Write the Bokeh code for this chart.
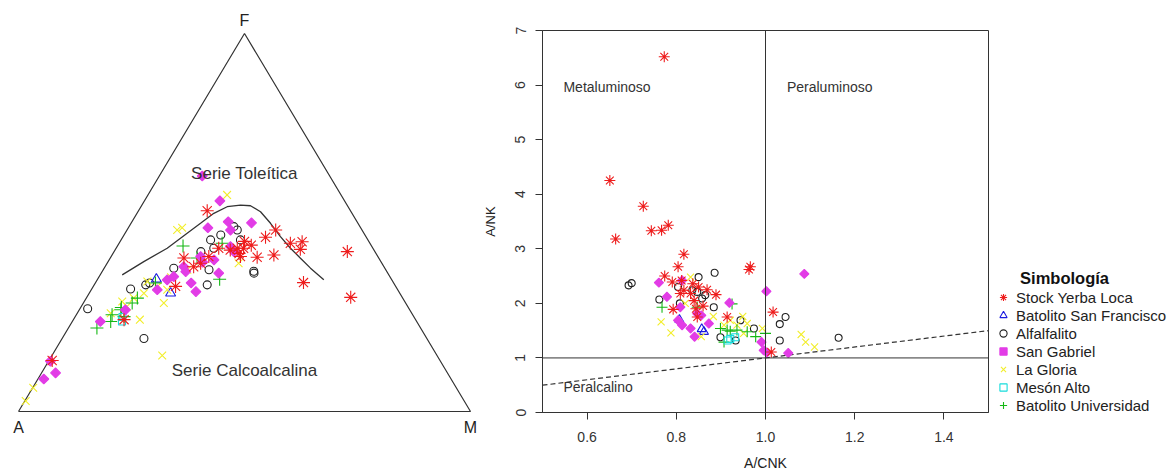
import numpy as np
from bokeh.plotting import figure
from bokeh.layouts import row
from bokeh.models import (Range1d, Span, Label, Legend, LegendItem, FixedTicker,
                          PrintfTickFormatter, LinearAxis)
from bokeh.embed import file_html
from bokeh.resources import INLINE

FONT = "Liberation Sans"

# ---------------- data: series names ----------------
names = ["Stock Yerba Loca", "Batolito San Francisco", "Alfalfalito", "San Gabriel",
         "La Gloria", "Mesón Alto", "Batolito Universidad"]
legend_title = "Simbología"

# ---------------- AFM ternary data (F %, M %) ----------------
syl_F = [53.1, 48.0, 46.1, 44.5, 44.9, 42.9, 42.3, 41.4, 40.8, 34.1, 30.2, 41.0, 43.2,
         43.2, 42.7, 43.2, 41.0, 39.2, 40.6, 33.1, 13.5, 38.3, 24.3, 45.0, 44.0, 41.8]
syl_M = [15.2, 32.9, 31.6, 37.9, 40.3, 40.9, 51.6, 35.8, 32.4, 46.0, 58.4, 28.6, 28.2,
         26.8, 25.5, 22.7, 21.6, 20.7, 16.3, 18.2, 0.7, 19.6, 11.2, 27.5, 29.5, 27.9]
bsf_F = [31.3, 35.0]
bsf_M = [18.0, 13.0]
alf_F = [27.2, 19.3, 32.4, 33.5, 37.9, 33.5, 36.6, 37.1, 37.5, 42.3, 45.4, 46.7, 48.0,
         48.9, 45.4, 43.2, 34.0]
alf_M = [1.7, 18.1, 8.6, 11.4, 15.4, 25.0, 33.8, 33.5, 23.4, 19.2, 19.8, 21.4, 24.4,
         23.2, 26.4, 21.6, 12.0]
sg_F = [62.3, 55.7, 48.6, 50.2, 49.9, 48.0, 36.6, 34.0, 31.7, 35.7, 41.0, 40.1, 23.8,
        13.3, 8.6, 10.2, 26.9, 32.2, 38.3, 43.6, 42.3, 34.8, 39.5, 37.0]
sg_M = [9.5, 16.7, 17.6, 21.3, 26.6, 22.9, 26.0, 21.2, 23.4, 16.5, 19.8, 23.2, 6.2,
        0.4, 1.3, 3.1, 10.2, 14.6, 17.4, 25.1, 26.5, 15.5, 21.0, 18.5]
lg_F = [57.3, 48.0, 48.6, 14.8, 2.8, 6.3, 24.3, 28.7, 34.4, 29.1, 27.8, 30.0, 32.2,
        39.2, 26.0, 37.5, 31.3, 33.1, 35.5]
lg_M = [17.5, 11.1, 11.9, 24.4, 0.2, 0.1, 14.7, 17.8, 11.3, 8.4, 10.1, 10.5, 16.8,
        29.1, 7.4, 18.6, 12.1, 14.2, 16.0]
ma_F = [23.8, 25.0]
ma_M = [11.0, 10.5]
bu_F = [43.8, 35.0, 22.1, 34.0, 30.0, 25.6, 23.8, 26.9, 28.7, 40.6, 44.5, 25.1, 27.5]
bu_M = [14.5, 27.0, 6.3, 13.3, 11.3, 7.9, 8.5, 9.2, 10.8, 19.2, 22.8, 10.8, 9.0]

# tholeiitic / calc-alkaline boundary (F %, M %)
curve_F = [36.15, 39.66, 43.19, 47.15, 49.79, 52.43, 54.17, 54.62, 54.43, 52.85, 49.79,
           46.25, 43.19, 40.55, 37.92, 34.83]
curve_M = [4.87, 7.89, 11.30, 13.74, 15.38, 17.0, 19.08, 21.81, 24.11, 27.12, 30.86,
           34.83, 38.58, 42.11, 45.64, 50.13]

# ---------------- Shand diagram data (A/CNK, A/NK) ----------------
syl_x = [0.773, 0.651, 0.664, 0.726, 0.744, 0.767, 0.782, 0.817, 0.804, 0.774, 0.791,
         0.812, 0.817, 0.832, 0.850, 0.869, 0.889, 0.793, 0.844, 0.847, 0.914, 0.963,
         0.966, 1.017, 1.013, 0.837, 0.809, 0.840, 0.860]
syl_y = [6.52, 4.25, 3.18, 3.78, 3.33, 3.34, 3.43, 2.90, 2.67, 2.50, 2.39, 2.42, 2.24,
         2.18, 2.30, 2.25, 2.16, 1.89, 1.90, 1.75, 1.75, 2.62, 2.67, 1.84, 1.11, 2.36,
         2.18, 2.05, 1.95]
bsf_x = [0.807, 0.857, 0.862]
bsf_y = [1.70, 1.53, 1.48]
alf_x = [0.693, 0.700, 0.762, 0.804, 0.850, 0.886, 0.884, 0.847, 0.858, 0.865, 0.808,
         0.899, 0.933, 0.974, 1.032, 1.045, 1.032, 1.164, 0.944, 0.836]
alf_y = [2.33, 2.37, 2.07, 2.30, 2.48, 2.56, 1.93, 2.21, 2.09, 2.15, 2.00, 1.38, 1.32,
         1.54, 1.62, 1.75, 1.32, 1.37, 1.69, 2.24]
sg_x = [0.761, 0.779, 0.813, 0.804, 0.813, 0.832, 0.841, 0.856, 0.873, 0.919, 1.002,
        1.087, 0.996, 1.051, 0.991, 0.847, 0.809, 1.003]
sg_y = [2.38, 2.12, 2.42, 1.69, 1.60, 1.54, 1.39, 1.78, 1.63, 2.01, 2.22, 2.54, 1.14,
        1.09, 1.29, 1.81, 1.93, 1.10]
lg_x = [0.766, 0.788, 0.856, 0.883, 0.907, 0.936, 0.949, 0.959, 0.993, 1.080, 1.090,
        1.110, 0.832, 0.921, 0.951, 0.820]
lg_y = [1.66, 1.46, 1.39, 1.76, 1.60, 1.60, 1.76, 1.63, 1.54, 1.43, 1.29, 1.20, 2.48,
        1.69, 1.45, 2.00]
ma_x = [0.921, 0.932, 0.915]
ma_y = [1.35, 1.38, 1.32]
bu_x = [0.768, 0.925, 0.907, 0.899, 0.914, 0.936, 0.959, 0.978, 1.000, 0.847, 0.921]
bu_y = [1.93, 1.99, 1.29, 1.54, 1.51, 1.51, 1.48, 1.39, 1.45, 1.93, 1.49]

# peralkaline reference line, ticks
peralk_x = [0.5, 1.5]
peralk_y = [0.5, 1.5]
x_ticks = [0.6, 0.8, 1.0, 1.2, 1.4]
y_ticks = [0, 1, 2, 3, 4, 5, 6, 7]

# ---------------- styles ----------------
styles = {
    "Stock Yerba Loca": dict(marker="asterisk", color="#EE1C1C", filled=False, s_t=13, s_r=11, ang=0.0),
    "Batolito San Francisco": dict(marker="triangle", color="#1A1AE0", filled=False, s_t=10, s_r=9, ang=0.0),
    "Alfalfalito": dict(marker="circle", color="#202020", filled=False, s_t=8, s_r=7, ang=0.0),
    "San Gabriel": dict(marker="square", color="#E23CE6", filled=True, s_t=7, s_r=6.5, ang=np.pi / 4),
    "La Gloria": dict(marker="x", color="#F2EE2A", filled=False, s_t=11, s_r=10, ang=0.0),
    "Mesón Alto": dict(marker="square", color="#16DCDC", filled=False, s_t=7, s_r=7, ang=0.0),
    "Batolito Universidad": dict(marker="cross", color="#14B814", filled=False, s_t=13, s_r=11, ang=0.0),
}
tern_data = {
    "Stock Yerba Loca": (syl_F, syl_M), "Batolito San Francisco": (bsf_F, bsf_M),
    "Alfalfalito": (alf_F, alf_M), "San Gabriel": (sg_F, sg_M), "La Gloria": (lg_F, lg_M),
    "Mesón Alto": (ma_F, ma_M), "Batolito Universidad": (bu_F, bu_M),
}
shand_data = {
    "Stock Yerba Loca": (syl_x, syl_y), "Batolito San Francisco": (bsf_x, bsf_y),
    "Alfalfalito": (alf_x, alf_y), "San Gabriel": (sg_x, sg_y), "La Gloria": (lg_x, lg_y),
    "Mesón Alto": (ma_x, ma_y), "Batolito Universidad": (bu_x, bu_y),
}
order = ["Alfalfalito", "Batolito San Francisco", "La Gloria", "Batolito Universidad",
         "Mesón Alto", "San Gabriel", "Stock Yerba Loca"]


def tern(F, M):
    """AFM composition -> cartesian (A at left, M at right, F at top)."""
    F = np.asarray(F, dtype=float)
    M = np.asarray(M, dtype=float)
    return M + F / 2.0, F


# ================= left: AFM ternary =================
pt = figure(width=478, height=476, x_range=Range1d(-3.982, 101.77),
            y_range=Range1d(-0.265, 100.79), x_axis_location="below",
            y_axis_location=None, toolbar_location=None, output_backend="svg",
            min_border_left=0, min_border_right=0, min_border_top=30,
            min_border_bottom=64, outline_line_color=None)
pt.xgrid.grid_line_color = None
pt.ygrid.grid_line_color = None

# vertex labels as axis tick labels (A, M below; F above)
bottom_ax = pt.below[0]
bottom_ax.ticker = FixedTicker(ticks=[0, 100])
bottom_ax.major_label_overrides = {0: "A", 100: "M"}
bottom_ax.major_label_standoff = 6
top_ax = LinearAxis(ticker=FixedTicker(ticks=[50]), major_label_overrides={50: "F"},
                    major_label_standoff=2)
pt.add_layout(top_ax, "above")
for ax in (bottom_ax, top_ax):
    ax.axis_line_color = None
    ax.major_tick_line_color = None
    ax.minor_tick_line_color = None
    ax.major_tick_out = 0
    ax.major_tick_in = 0
    ax.major_label_text_font = FONT
    ax.major_label_text_font_size = "16px"
    ax.major_label_text_color = "#222222"

tri_x, tri_y = tern([0, 0, 100, 0], [0, 100, 0, 0])
pt.line(tri_x, tri_y, line_color="#333333", line_width=1.2)
cx, cy = tern(curve_F, curve_M)
pt.line(cx, cy, line_color="#333333", line_width=1.3)

for nm in order:
    st = styles[nm]
    F, M = tern_data[nm]
    x, y = tern(F, M)
    pt.scatter(x, y, marker=st["marker"], size=st["s_t"], angle=st["ang"],
               line_color=st["color"], fill_color=st["color"] if st["filled"] else None,
               line_width=1.1)

for txt, F in [("Serie Toleítica", 62.96), ("Serie Calcoalcalina", 10.85)]:
    lx, ly = tern([F], [50 - F / 2])
    pt.add_layout(Label(x=float(lx[0]), y=float(ly[0]), text=txt, text_font=FONT,
                        text_font_size="17px", text_color="#333333", text_align="center",
                        text_baseline="middle"))

# ================= middle: Shand diagram =================
p = figure(width=512, height=476, x_range=Range1d(0.5, 1.5), y_range=Range1d(0, 7),
           toolbar_location=None, output_backend="svg", min_border_left=64,
           min_border_right=2, min_border_top=30, min_border_bottom=64)
p.xgrid.grid_line_color = None
p.ygrid.grid_line_color = None
p.outline_line_color = "#333333"
p.outline_line_width = 1

p.xaxis.ticker = FixedTicker(ticks=x_ticks)
p.xaxis.formatter = PrintfTickFormatter(format="%.1f")
p.yaxis.ticker = FixedTicker(ticks=y_ticks)
p.yaxis.major_label_orientation = "vertical"
for ax in (p.xaxis, p.yaxis):
    ax.axis_line_color = "#333333"
    ax.major_tick_line_color = "#333333"
    ax.major_tick_out = 7
    ax.major_tick_in = 0
    ax.minor_tick_line_color = None
    ax.major_label_text_font = FONT
    ax.major_label_text_font_size = "14px"
    ax.major_label_text_color = "#333333"
    ax.axis_label_text_font = FONT
    ax.axis_label_text_font_style = "normal"
    ax.axis_label_text_color = "#222222"
p.xaxis.axis_label = "A/CNK"
p.yaxis.axis_label = "A/NK"
p.xaxis.axis_label_text_font_size = "14px"
p.yaxis.axis_label_text_font_size = "13px"
p.xaxis.major_label_standoff = 12
p.xaxis.axis_label_standoff = 10
p.yaxis.major_label_standoff = 10
p.yaxis.axis_label_standoff = 15

p.add_layout(Span(location=1.0, dimension="height", line_color="#333333", line_width=1))
p.add_layout(Span(location=1.0, dimension="width", line_color="#333333", line_width=1))
p.line(peralk_x, peralk_y, line_color="#333333", line_width=1.2, line_dash="5 3")

for nm in order:
    st = styles[nm]
    x, y = shand_data[nm]
    p.scatter(x, y, marker=st["marker"], size=st["s_r"], angle=st["ang"],
              line_color=st["color"], fill_color=st["color"] if st["filled"] else None,
              line_width=1.1)

for txt, lx, ly in [("Metaluminoso", 0.547, 5.96), ("Peraluminoso", 1.048, 5.96),
                    ("Peralcalino", 0.547, 0.47)]:
    p.add_layout(Label(x=lx, y=ly, text=txt, text_font=FONT, text_font_size="14px",
                       text_color="#333333", text_align="left", text_baseline="middle"))

# ================= right: legend panel =================
pl = figure(width=178, height=476, x_range=Range1d(0, 1), y_range=Range1d(0, 1),
            x_axis_location=None, y_axis_location=None, toolbar_location=None,
            output_backend="svg", min_border_left=0, min_border_right=0,
            min_border_top=30, min_border_bottom=64, outline_line_color=None)
pl.xgrid.grid_line_color = None
pl.ygrid.grid_line_color = None
leg_rends = {}
for nm in names:
    st = styles[nm]
    # one empty (NaN) point so that the legend swatch has a style to draw
    leg_rends[nm] = pl.scatter([np.nan], [np.nan], marker=st["marker"], size=st["s_r"],
                               angle=st["ang"], line_color=st["color"],
                               fill_color=st["color"] if st["filled"] else None,
                               line_width=1.1)

legend = Legend(items=[LegendItem(label=nm, renderers=[leg_rends[nm]]) for nm in names],
                location=(4, -2), label_text_font=FONT, label_text_font_size="15px",
                label_text_color="#222222", glyph_width=18, glyph_height=18,
                label_height=18, spacing=0, label_standoff=4, padding=3, margin=0,
                border_line_color=None, background_fill_alpha=0.0)
pl.add_layout(legend)
pl.add_layout(Label(x=0.416, y=0.353, text=legend_title, text_font=FONT,
                    text_font_style="bold", text_font_size="16.5px", text_color="#111111",
                    text_align="center", text_baseline="middle"))

layout = row(pt, p, pl)
open("out.html", "w").write(file_html(layout, INLINE))
